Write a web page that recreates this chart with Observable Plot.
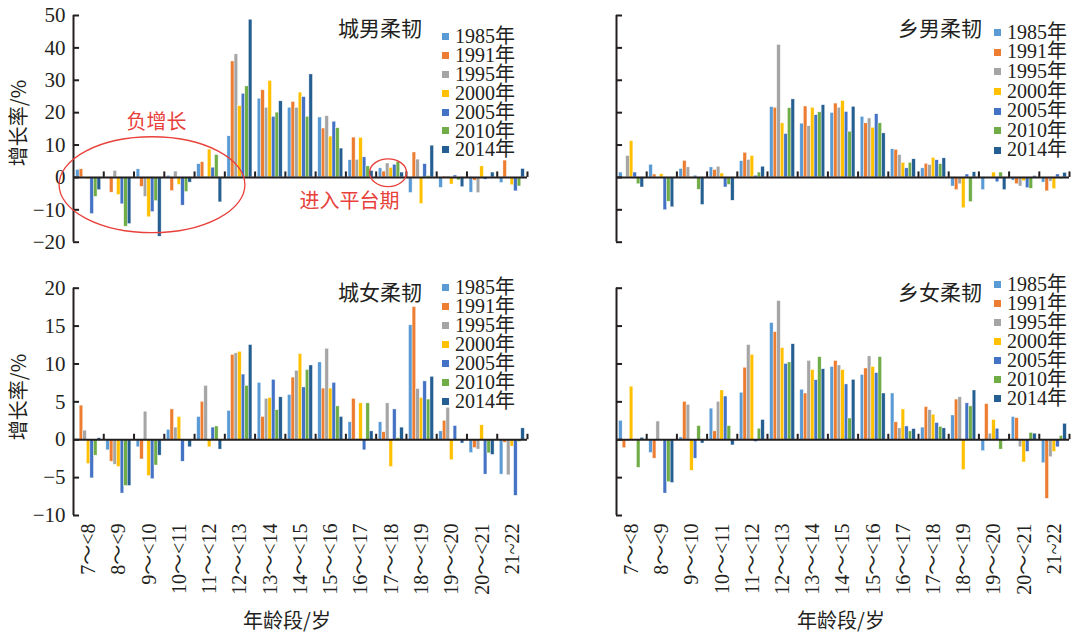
<!DOCTYPE html>
<html><head><meta charset="utf-8">
<script src="https://cdn.jsdelivr.net/npm/d3@7"></script>
<script src="https://cdn.jsdelivr.net/npm/@observablehq/plot@0.6"></script>
<style>
body{margin:0;background:#fff;}
#root{position:relative;width:1073px;height:633px;overflow:hidden;color:#231f20;font-family:"Liberation Serif","Times New Roman","Noto Sans CJK SC",serif;}
.pnl{position:absolute;}
.pnl svg{max-width:none;overflow:visible;}
.cjk{position:absolute;font-family:"Noto Sans CJK SC",sans-serif;white-space:nowrap;line-height:1;}
.leg{position:absolute;}
.leg .it{display:flex;align-items:center;font-family:"Liberation Serif","Times New Roman","Noto Sans CJK SC",serif;font-size:20px;white-space:nowrap;}
.leg .sw{width:7px;height:7px;margin-right:6px;flex:none;}
</style></head>
<body><div id="root"></div>
<script>
const categories = ["7～<8","8～<9","9～<10","10～<11","11～<12","12～<13","13～<14","14～<15","15～<16","16～<17","17～<18","18～<19","19～<20","20～<21","21~22"];
const years = ["1985年","1991年","1995年","2000年","2005年","2010年","2014年"];
const colors = ["#5B9BD5","#ED7D31","#A5A5A5","#FFC000","#4472C4","#70AD47","#255E91"];

// 城男柔韧 (rows = years, columns = age groups)
const urbanMale = [
  [2.3, 0, 2.5, 0.5, 4.1, 12.7, 24.3, 21.5, 18.5, 5.3, 2.8, -4.8, -3.2, -4.7, -1.7],
  [2.5, -4.7, -2.9, -4.2, 4.7, 35.8, 26.9, 23.3, 15.1, 12.3, 1.8, 7.7, 0.3, -1.0, 5.2],
  [0, 2.0, -6.0, 1.8, 0.2, 38.0, 21.5, 21.5, 18.9, 5.4, 4.3, 5.5, 0.3, -4.8, -0.3],
  [-0.6, -5.4, -12.3, -2.3, 8.6, 22.0, 29.8, 26.2, 12.6, 12.2, 2.9, -8.2, -2.2, 3.4, -2.4],
  [-11.3, -8.3, -10.7, -8.7, 3.0, 25.8, 18.7, 24.8, 17.2, 6.2, 3.9, 4.1, 0.6, -0.7, -4.3],
  [-6.0, -15.2, -7.3, -4.5, 6.9, 28.1, 20.0, 18.7, 15.2, 3.4, 4.8, 0.4, -0.9, 0, -2.8],
  [-3.9, -14.4, -18.3, -1.6, -7.7, 48.7, 23.5, 31.8, 8.9, 2.0, 1.5, 9.8, -3.0, 1.5, 2.6]
];
// 乡男柔韧
const ruralMale = [
  [1.5, 3.9, 2.6, 3.1, 5.0, 21.7, 16.6, 19.9, 18.7, 8.7, 2.8, -2.8, -3.9, -1.0, -1.6],
  [0, 0.9, 5.1, 2.3, 7.6, 21.5, 21.9, 22.8, 16.7, 8.5, 4.2, -3.9, 0, -2.1, -4.3],
  [6.6, 0, 3.1, 3.3, 5.4, 40.9, 15.8, 21.5, 18.2, 6.9, 3.8, -2.1, 0, -2.8, -1.3],
  [11.2, 1.0, 0.2, 1.2, 6.6, 16.7, 21.5, 23.6, 15.3, 4.5, 6.0, -9.5, 1.5, -1.2, -3.6],
  [1.5, -10.1, 0.5, -3.1, 0.5, 13.4, 19.2, 20.2, 19.5, 2.8, 5.3, 0.9, -1.5, -3.3, 0.9],
  [-2.1, -7.5, -3.8, -2.3, 1.5, 21.4, 20.1, 14.1, 16.7, 4.5, 4.1, -7.6, 1.5, -3.5, -0.5],
  [-3.1, -9.2, -8.5, -7.2, 3.3, 24.1, 22.3, 21.8, 13.6, 5.6, 5.9, 1.6, -3.9, 0.4, 1.4]
];
// 城女柔韧
const urbanFemale = [
  [0, -1.4, -1.0, 1.3, 3.0, 3.8, 7.5, 5.9, 10.2, 2.3, 2.3, 15.1, 1.1, -1.75, -4.6],
  [4.5, -2.9, -2.6, 4.0, 5.0, 11.2, 3.0, 8.2, 6.75, 5.4, 1.0, 17.5, 2.5, -1.1, -0.4],
  [1.2, -3.3, 3.7, 1.6, 7.1, 11.4, 5.4, 9.1, 12.0, 0.1, 4.8, 6.7, 4.2, -1.3, -4.7],
  [-3.2, -3.6, -4.8, 3.0, -1.0, 11.6, 5.5, 11.3, 6.75, 4.8, -3.6, 5.5, -2.7, 1.9, -0.9],
  [-5.1, -7.1, -5.2, -2.9, 1.6, 8.6, 7.9, 6.9, 7.5, -1.4, 4.0, 7.7, 1.8, -4.6, -7.4],
  [-2.1, -6.1, -3.4, -0.2, 1.75, 7.1, 3.9, 9.2, 4.4, 4.8, 0.2, 5.3, 0, -1.8, -0.3],
  [0.2, -6.1, -2.1, -1.0, -1.3, 12.5, 5.6, 9.8, 3.0, 1.1, 1.6, 8.3, -0.5, -2.0, 1.5]
];
// 乡女柔韧
const ruralFemale = [
  [2.5, -1.75, 0.3, 4.1, 6.2, 15.4, 6.6, 9.6, 8.55, 6.1, 1.6, 3.2, -1.5, 3.0, -3.1],
  [-1.1, -2.5, 5.0, 1.1, 9.5, 14.2, 6.1, 10.4, 9.4, 2.3, 4.3, 5.3, 4.7, 2.85, -7.8],
  [-0.2, 2.4, 4.6, 5.0, 12.5, 18.3, 10.4, 9.8, 11.0, 1.5, 3.9, 5.6, 0.8, -1.0, -2.3],
  [7.0, 0, -4.1, 6.5, 11.2, 12.1, 9.2, 9.2, 9.6, 4.0, 3.3, -4.0, 2.6, -3.0, -1.6],
  [0, -7.1, -2.5, 5.7, -0.3, 10.0, 7.85, 7.3, 8.8, 1.75, 2.2, 4.8, 1.45, -1.6, -1.0],
  [-3.7, -5.6, 1.8, 1.8, 1.45, 10.2, 10.9, 2.8, 10.9, 1.1, 1.7, 4.4, -1.3, 0.9, 0.5],
  [0.25, -5.7, -0.5, -0.75, 2.6, 12.6, 9.3, 7.9, 6.1, 1.4, 1.5, 6.5, -0.2, 0.8, 2.1]
];

const titles = ["城男柔韧", "乡男柔韧", "城女柔韧", "乡女柔韧"];
const yTitle = "增长率/%";
const xTitle = "年龄段/岁";
const annNeg = "负增长";
const annPlat = "进入平台期";

const INK = "#231f20";
const RED = "#e8403a";
const SERIF = '"Liberation Serif", "Times New Roman", "Noto Sans CJK SC", serif';
const GAP = 0.086, BW = 0.118;
const root = document.getElementById("root");
const fmt = d => d < 0 ? "\u2212" + (-d) : String(d);

function makePanel(cfg) {
  const data = [];
  cfg.rows.forEach((vals, k) => vals.forEach((v, i) => data.push({year: years[k], k, i, value: v})));
  const bounds = categories.map((c, i) => i + 1);
  const marks = [
    Plot.rect(data, {x1: d => d.i + GAP + d.k * BW, x2: d => d.i + GAP + (d.k + 1) * BW, y1: 0, y2: "value", fill: "year", stroke: "#fff", strokeWidth: 0.5, strokeOpacity: 0.8}),
    Plot.ruleY([0], {stroke: INK, strokeWidth: 2}),
    Plot.ruleX([0], {y1: cfg.yDomain[0], y2: cfg.yDomain[1], stroke: INK, strokeWidth: 2}),
    Plot.ruleY(cfg.yTicks, {x1: 0, x2: 0.2, stroke: INK, strokeWidth: 2}),
    Plot.ruleX(bounds, {y1: 0, y2: cfg.tickLen, stroke: INK, strokeWidth: 2})
  ];
  if (cfg.yLabels) marks.push(Plot.text(cfg.yTicks, {x: 0, y: d => d, text: fmt, textAnchor: "end", dx: -8, fill: INK, fontSize: 21, fontFamily: SERIF}));
  if (cfg.xLabels) marks.push(Plot.text(categories, {x: (d, i) => i + 0.5, y: cfg.yDomain[0], text: d => d, rotate: -90, textAnchor: "end", dy: 8, fill: INK, fontSize: 20, fontFamily: SERIF}));
  if (cfg.ann) {
    marks.push(Plot.text([annNeg], {x: 2.74, y: 17.0, text: d => d, fill: RED, fontSize: 20, fontFamily: "Noto Sans CJK SC"}));
    marks.push(Plot.text([annPlat], {x: 9.12, y: -7.6, text: d => d, fill: RED, fontSize: 20, fontFamily: "Noto Sans CJK SC"}));
  }
  const plot = Plot.plot({
    width: cfg.w, height: cfg.h,
    marginLeft: cfg.ml, marginRight: cfg.mr, marginTop: cfg.mt, marginBottom: cfg.mb,
    x: {domain: [0, categories.length], axis: null},
    y: {domain: cfg.yDomain, axis: null},
    color: {domain: years, range: colors},
    style: {fontFamily: SERIF, fontSize: "21px", color: INK, background: "transparent", overflow: "visible"},
    marks
  });
  if (cfg.ann) {
    const sx = plot.scale("x"), sy = plot.scale("y");
    const ells = [
      {cx: 2.61, cy: -2.4, rx: 3.07, ry: 14.8},
      {cx: 10.41, cy: 1.3, rx: 0.61, ry: 4.3}
    ];
    const svg = d3.select(plot);
    ells.forEach(e => {
      const cx = sx.apply(e.cx), cy = sy.apply(e.cy);
      svg.append("ellipse")
        .attr("cx", cx).attr("cy", cy)
        .attr("rx", Math.abs(sx.apply(e.cx + e.rx) - cx))
        .attr("ry", Math.abs(sy.apply(e.cy + e.ry) - cy))
        .attr("fill", "none").attr("stroke", RED).attr("stroke-width", 1.3);
    });
  }
  const div = document.createElement("div");
  div.className = "pnl";
  div.style.left = cfg.left + "px"; div.style.top = cfg.top + "px";
  div.style.width = cfg.w + "px"; div.style.height = cfg.h + "px";
  div.appendChild(plot);
  root.appendChild(div);
}

const topTicks = [-20, -10, 0, 10, 20, 30, 40, 50];
const botTicks = [-10, -5, 0, 5, 10, 15, 20];
makePanel({rows: urbanMale, left: 0, top: 0, w: 540, h: 260, ml: 73, mr: 13, mt: 15, mb: 18.3, yDomain: [-20, 50], yTicks: topTicks, tickLen: 1.7, yLabels: true, xLabels: false, ann: true});
makePanel({rows: ruralMale, left: 540, top: 0, w: 533, h: 260, ml: 76, mr: 4, mt: 15, mb: 18.3, yDomain: [-20, 50], yTicks: topTicks, tickLen: 1.7, yLabels: false, xLabels: false});
makePanel({rows: urbanFemale, left: 0, top: 260, w: 540, h: 373, ml: 73, mr: 13, mt: 27.7, mb: 118, yDomain: [-10, 20], yTicks: botTicks, tickLen: 0.72, yLabels: true, xLabels: true});
makePanel({rows: ruralFemale, left: 540, top: 260, w: 533, h: 373, ml: 76, mr: 4, mt: 27.7, mb: 118, yDomain: [-10, 20], yTicks: botTicks, tickLen: 0.72, yLabels: false, xLabels: true});

// titles, legends, axis titles
function addText(txt, x, y, size, extra) {
  const d = document.createElement("div");
  d.className = "cjk"; d.textContent = txt;
  d.style.fontSize = size + "px";
  d.style.left = x + "px"; d.style.top = y + "px";
  if (extra) Object.assign(d.style, extra);
  root.appendChild(d);
  return d;
}
const titlePos = [[338, 17], [898, 17], [338, 281], [898, 281]];
titles.forEach((t, i) => addText(t, titlePos[i][0], titlePos[i][1], 21));

const legPos = [[442, 36.5, 18.9], [994, 32.7, 19.6], [442, 287.7, 18.9], [994, 284.3, 19.1]];
legPos.forEach(([x, y0, step]) => {
  const lg = document.createElement("div");
  lg.className = "leg";
  lg.style.left = x + "px"; lg.style.top = (y0 - step / 2) + "px";
  years.forEach((yr, k) => {
    const it = document.createElement("div");
    it.className = "it"; it.style.height = step + "px"; it.style.lineHeight = step + "px";
    const sw = document.createElement("span");
    sw.className = "sw"; sw.style.background = colors[k];
    const tx = document.createElement("span");
    tx.textContent = yr;
    it.appendChild(sw); it.appendChild(tx);
    lg.appendChild(it);
  });
  root.appendChild(lg);
});

[[18, 123], [18, 397]].forEach(([cx, cy]) => {
  addText(yTitle, cx, cy, 20, {transform: "translate(-50%,-50%) rotate(-90deg)"});
});
[[287, 620], [841, 620]].forEach(([cx, cy]) => {
  addText(xTitle, cx, cy, 20, {transform: "translate(-50%,-50%)"});
});
</script></body></html>
